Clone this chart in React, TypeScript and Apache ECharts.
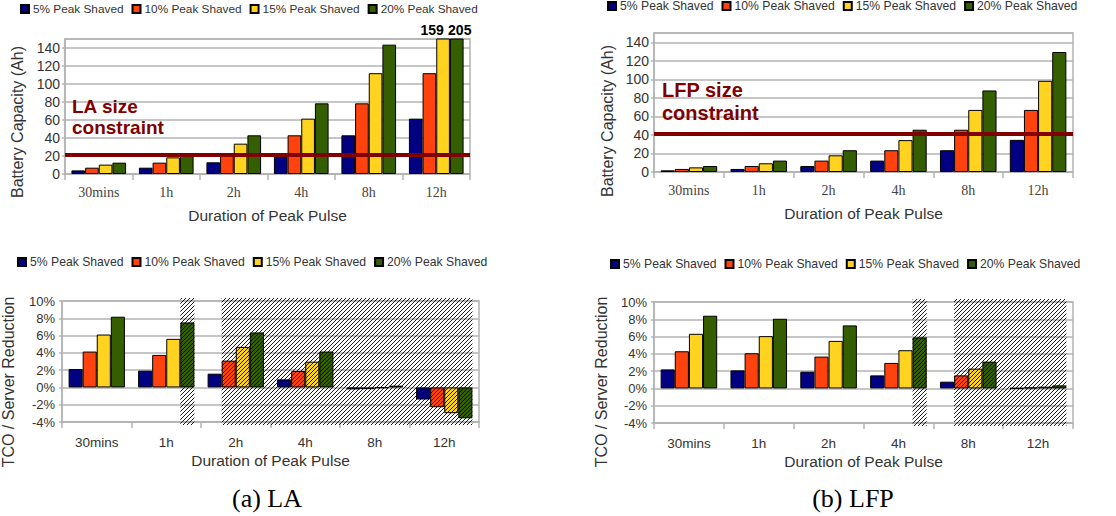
import React, { useEffect, useRef } from 'react';
import * as echarts from 'echarts';

const categories = ['30mins', '1h', '2h', '4h', '8h', '12h'];
const seriesNames = ['5% Peak Shaved', '10% Peak Shaved', '15% Peak Shaved', '20% Peak Shaved'];
const colors = ['#000080', '#ff420e', '#ffd320', '#355e00'];

// (a) LA battery capacity (Ah)
const laCap5 = [4, 7, 13, 23.3, 43, 61.5];
const laCap10 = [7, 12.6, 23.3, 43, 78.5, 112];
const laCap15 = [10.4, 18.5, 33.7, 61.5, 112, 159];
const laCap20 = [12.6, 23.3, 43, 78.5, 143.7, 205];
// (b) LFP battery capacity (Ah)
const lfpCap5 = [1.8, 3.3, 6.5, 12.3, 23.5, 34.7];
const lfpCap10 = [3.3, 6.5, 12.3, 23.5, 45.6, 67];
const lfpCap15 = [5, 9.4, 18, 34.4, 67, 98.4];
const lfpCap20 = [6.5, 12.3, 23.5, 45.6, 88, 129.5];
// (a) LA TCO / server reduction (%)
const laTco5 = [2.13, 1.94, 1.59, 0.93, -0.23, -1.4];
const laTco10 = [4.15, 3.76, 3.1, 1.9, -0.2, -2.29];
const laTco15 = [6.12, 5.62, 4.69, 2.98, -0.05, -2.98];
const laTco20 = [8.18, 7.52, 6.36, 4.15, 0.2, -3.57];
// (b) LFP TCO / server reduction (%)
const lfpTco5 = [2.2, 2.09, 1.94, 1.51, 0.78, 0.04];
const lfpTco10 = [4.3, 4.07, 3.68, 2.95, 1.51, 0.12];
const lfpTco15 = [6.32, 6.05, 5.5, 4.42, 2.29, 0.2];
const lfpTco20 = [8.41, 8.06, 7.29, 5.9, 3.1, 0.35];

const capMin = 0;
const capMax = 150;
const capInterval = 20;
const tcoMin = -4;
const tcoMax = 10;
const tcoInterval = 2;

const laConstraint = 21;
const lfpConstraint = 41;

// hatched (infeasible) regions: [startCategory, startBar, endCategory, endBar]
const laHatch = [[1, 3, 1, 3], [2, 1, 5, 3]];
const lfpHatch = [[3, 3, 3, 3], [4, 1, 5, 3]];

const clippedLabelOffsetX = [0, 0, -11, 3];

const GAP = 0.19;
const GRAY = '#b3b3b3';
const TEXT = '#333333';
const SANS = 'Liberation Sans';
const SERIF = 'Liberation Serif';

const panels = [
  { grid: { left: 65, top: 39, width: 405, height: 135 }, data: [laCap5, laCap10, laCap15, laCap20], kind: 'cap', constraint: laConstraint, hatch: null },
  { grid: { left: 654, top: 33, width: 419, height: 139 }, data: [lfpCap5, lfpCap10, lfpCap15, lfpCap20], kind: 'cap', constraint: lfpConstraint, hatch: null },
  { grid: { left: 62, top: 301, width: 417, height: 121 }, data: [laTco5, laTco10, laTco15, laTco20], kind: 'tco', constraint: null, hatch: laHatch },
  { grid: { left: 654, top: 302, width: 419, height: 121 }, data: [lfpTco5, lfpTco10, lfpTco15, lfpTco20], kind: 'tco', constraint: null, hatch: lfpHatch },
];

const legends = [
  { left: 20, top: 3, fontSize: 11.8 },
  { left: 607, top: 0, fontSize: 12.2 },
  { left: 17, top: 256, fontSize: 12.2 },
  { left: 610, top: 258, fontSize: 12.2 },
];

function hatchRender(params: any, api: any) {
  const cs = params.coordSys;
  const c0 = api.value(0);
  const b0 = api.value(1);
  const c1 = api.value(2);
  const b1 = api.value(3);
  const band = api.size([1, 0])[0];
  const groupW = band * (1 - GAP);
  const barW = groupW / 4;
  const xs = api.coord([c0, 0])[0] - groupW / 2 + b0 * barW;
  const xe = api.coord([c1, 0])[0] - groupW / 2 + (b1 + 1) * barW;
  const y0 = cs.y - 3;
  const y1 = cs.y + cs.height + 3;
  const children: any[] = [];
  const step = 4;
  const cStart = Math.floor((xs + y0) / step) * step;
  for (let c = cStart; c <= xe + y1; c += step) {
    const a = Math.max(xs, c - y1);
    const b = Math.min(xe, c - y0);
    if (a < b) {
      children.push({
        type: 'line',
        shape: { x1: a, y1: c - a, x2: b, y2: c - b },
        style: { stroke: '#000', lineWidth: 0.9 },
      });
    }
  }
  return { type: 'group', children };
}

export default function App() {
  const ref = useRef<HTMLDivElement>(null);
  useEffect(() => {
    if (!ref.current) return;
    const chart = echarts.init(ref.current, null, { renderer: 'svg' });

    const grid = panels.map((p) => ({ ...p.grid, show: true, borderColor: GRAY, borderWidth: 1.5, backgroundColor: 'transparent' }));

    const xAxis = panels.map((p, i) => ({
      type: 'category',
      gridIndex: i,
      data: categories,
      name: 'Duration of Peak Pulse',
      nameLocation: 'middle',
      nameGap: p.kind === 'cap' ? 33 : 30,
      nameTextStyle: { fontFamily: SANS, fontSize: 15.5, color: TEXT },
      axisLine: { show: true, onZero: false, lineStyle: { color: GRAY, width: 1.5 } },
      axisTick: { show: true, length: 6, lineStyle: { color: GRAY, width: 1.5 } },
      axisLabel: p.kind === 'cap'
        ? { fontFamily: SERIF, fontSize: 14, color: '#444', margin: 11 }
        : { fontFamily: SANS, fontSize: 13.5, color: TEXT, margin: 13 },
      splitLine: { show: false },
    }));

    const yAxis = panels.map((p, i) => ({
      type: 'value',
      gridIndex: i,
      min: p.kind === 'cap' ? capMin : tcoMin,
      max: p.kind === 'cap' ? capMax : tcoMax,
      interval: p.kind === 'cap' ? capInterval : tcoInterval,
      axisLine: { show: true, lineStyle: { color: GRAY, width: 1.5 } },
      axisTick: { show: true, length: 3, lineStyle: { color: GRAY, width: 1.5 } },
      splitLine: { show: true, lineStyle: { color: GRAY, width: 1.5 } },
      axisLabel: {
        fontFamily: SANS,
        fontSize: p.kind === 'cap' ? 14 : 13,
        color: TEXT,
        margin: p.kind === 'cap' ? 5 : 7,
        showMaxLabel: p.kind === 'cap' ? false : true,
        formatter: p.kind === 'cap' ? (v: number) => String(v) : (v: number) => v + '%',
      },
    }));

    const series: any[] = [];
    panels.forEach((p, i) => {
      const axisMax = p.kind === 'cap' ? capMax : tcoMax;
      p.data.forEach((vals, s) => {
        const item: any = {
          type: 'bar',
          name: seriesNames[s],
          xAxisIndex: i,
          yAxisIndex: i,
          barGap: '0%',
          barCategoryGap: GAP * 100 + '%',
          itemStyle: { color: colors[s], borderColor: '#000', borderWidth: 1 },
          z: 2,
          data: vals.map((v) =>
            v > axisMax
              ? {
                  value: v,
                  label: {
                    show: true,
                    position: 'top',
                    distance: 2,
                    offset: [clippedLabelOffsetX[s], 0],
                    fontFamily: SANS,
                    fontWeight: 'bold',
                    fontSize: 14,
                    color: '#000',
                  },
                }
              : v
          ),
        };
        if (p.constraint != null && s === 3) {
          item.markLine = {
            silent: true,
            symbol: 'none',
            label: { show: false },
            lineStyle: { color: '#800000', width: 4, type: 'solid' },
            data: [{ yAxis: p.constraint }],
          };
        }
        series.push(item);
      });
      if (p.hatch) {
        series.push({
          type: 'custom',
          xAxisIndex: i,
          yAxisIndex: i,
          z: 6,
          silent: true,
          clip: false,
          renderItem: hatchRender,
          encode: { x: [0, 2], y: [1, 3] },
          data: p.hatch,
        });
      }
    });

    const legend = legends.map((l) => ({
      left: l.left,
      top: l.top,
      padding: 0,
      itemWidth: 8,
      itemHeight: 8,
      itemGap: 8,
      icon: 'rect',
      selectedMode: false,
      data: seriesNames,
      textStyle: { fontFamily: SANS, fontSize: l.fontSize, color: TEXT, padding: [0, 0, 0, -1] },
    }));

    const graphic: any[] = [
      { type: 'text', x: 17, y: 122, rotation: Math.PI / 2, style: { text: 'Battery Capacity (Ah)', fontFamily: SANS, fontSize: 16, fill: TEXT, align: 'center', verticalAlign: 'middle' } },
      { type: 'text', x: 607, y: 121, rotation: Math.PI / 2, style: { text: 'Battery Capacity (Ah)', fontFamily: SANS, fontSize: 16, fill: TEXT, align: 'center', verticalAlign: 'middle' } },
      { type: 'text', x: 8, y: 382, rotation: Math.PI / 2, style: { text: 'TCO / Server Reduction', fontFamily: SANS, fontSize: 16, fill: TEXT, align: 'center', verticalAlign: 'middle' } },
      { type: 'text', x: 601, y: 382, rotation: Math.PI / 2, style: { text: 'TCO / Server Reduction', fontFamily: SANS, fontSize: 16, fill: TEXT, align: 'center', verticalAlign: 'middle' } },
      { type: 'text', x: 72, y: 96, z: 10, style: { text: 'LA size\nconstraint', fontFamily: SANS, fontWeight: 'bold', fontSize: 19, lineHeight: 21, fill: '#800000', align: 'left', verticalAlign: 'top' } },
      { type: 'text', x: 662, y: 78, z: 10, style: { text: 'LFP size\nconstraint', fontFamily: SANS, fontWeight: 'bold', fontSize: 20, lineHeight: 23, fill: '#800000', align: 'left', verticalAlign: 'top' } },
      { type: 'text', x: 267, y: 498, style: { text: '(a) LA', fontFamily: SERIF, fontSize: 26, fill: '#000', align: 'center', verticalAlign: 'middle' } },
      { type: 'text', x: 853, y: 498, style: { text: '(b) LFP', fontFamily: SERIF, fontSize: 26, fill: '#000', align: 'center', verticalAlign: 'middle' } },
    ];

    chart.setOption({
      animation: false,
      backgroundColor: '#ffffff',
      grid,
      xAxis,
      yAxis,
      legend,
      series,
      graphic,
    });
    return () => chart.dispose();
  }, []);
  return <div ref={ref} style={{ position: 'absolute', left: 0, top: 0, width: 1116, height: 516 }} />;
}
